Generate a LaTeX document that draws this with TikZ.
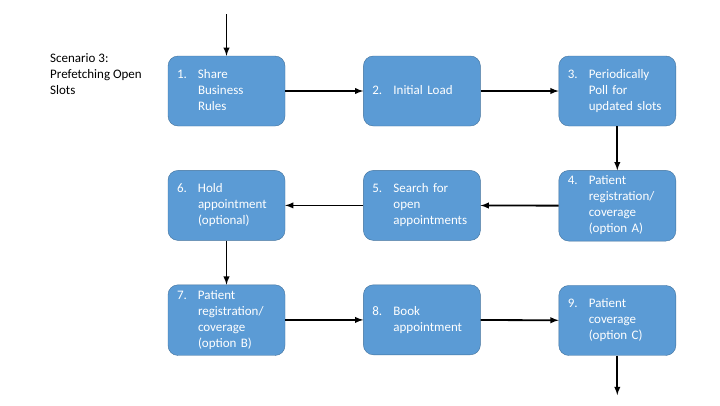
\documentclass[tikz,border=0pt]{standalone}
\usepackage{fontspec}
\setmainfont{Carlito}
\usetikzlibrary{positioning}
\definecolor{boxblue}{HTML}{5B9BD5}
\definecolor{boxline}{HTML}{41719C}
\newcommand{\stepitem}[2]{\raisebox{-2pt}{\begin{tabular}{@{}p{21pt}@{}l@{}}#1 & #2\end{tabular}}}
\tikzset{
  stepbox/.style={draw=boxline, fill=boxblue, text=white, rounded corners=10pt,
    minimum width=117pt, minimum height=70pt, text width=99pt, inner xsep=9pt,
    align=left, font=\fontsize{13}{16}\selectfont},
  flow/.style={->, line width=1.8pt}
}
\begin{document}
\begin{tikzpicture}[>=latex, x=1pt, y=-1pt, node distance=44pt and 78pt]
\useasboundingbox (0,0) rectangle (720,405);

\node[anchor=base west, inner sep=0, font=\fontsize{13}{16}\selectfont] (title) at (50,62)
  {\begin{tabular}[t]{@{}l@{}}Scenario 3:\\Prefetching Open\\Slots\end{tabular}};

\node[stepbox] (s1) at (226.5,91) {\stepitem{1.}{Share\\ & Business\\ & Rules}};
\node[stepbox, right=of s1] (s2) {\stepitem{2.}{Initial Load}};
\node[stepbox, right=of s2] (s3) {\stepitem{3.}{Periodically\\ & Poll for\\ & updated slots}};
\node[stepbox, below=of s3] (s4) {\stepitem{4.}{Patient\\ & registration/\\ & coverage\\ & (option A)}};
\node[stepbox, below=of s2] (s5) {\stepitem{5.}{Search for\\ & open\\ & appointments}};
\node[stepbox, below=of s1] (s6) {\stepitem{6.}{Hold\\ & appointment\\ & (optional)}};
\node[stepbox, below=of s6] (s7) {\stepitem{7.}{Patient\\ & registration/\\ & coverage\\ & (option B)}};
\node[stepbox, below=of s5] (s8) {\stepitem{8.}{Book\\ & appointment}};
\node[stepbox, below=of s4] (s9) {\stepitem{9.}{Patient\\ & coverage\\ & (option C)}};

\coordinate (start) at (s1.north |- 0,14);
\coordinate (finish) at (s9.south |- 0,395);

\draw[flow] (start) -- (s1);
\draw[flow] (s1) -- (s2);
\draw[flow] (s2) -- (s3);
\draw[flow] (s3) -- (s4);
\draw[flow] (s4) -- (s5);
\draw[flow] (s5) -- (s6);
\draw[flow] (s6) -- (s7);
\draw[flow] (s7) -- (s8);
\draw[flow] (s8) -- (s9);
\draw[flow] (s9) -- (finish);

\end{tikzpicture}
\end{document}
